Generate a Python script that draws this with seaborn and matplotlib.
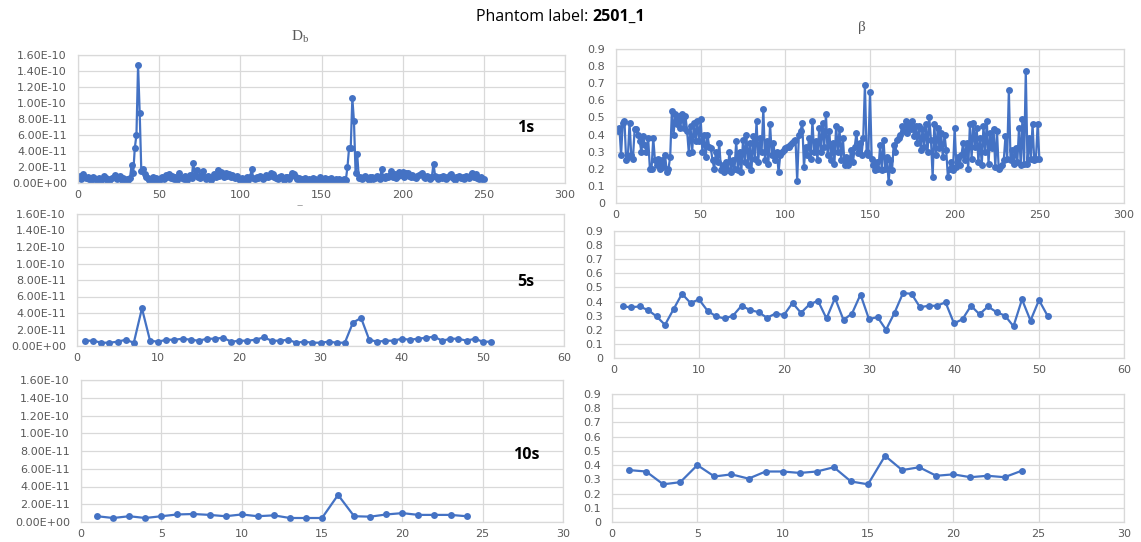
import numpy as np
import pandas as pd
import seaborn as sns
import matplotlib
matplotlib.use("Agg")
import matplotlib.pyplot as plt
from matplotlib.ticker import FuncFormatter

# ---- data -------------------------------------------------------------
# D_b values are stored in units of 1e-11
db_1s_e11 = [
    0.9, 0.5, 1.1, 0.7, 0.6, 0.8, 0.5, 0.4, 0.7, 0.6,
    0.5, 0.3, 0.6, 0.4, 0.5, 0.9, 0.6, 0.4, 0.3, 0.5,
    0.6, 0.8, 1.0, 0.5, 0.7, 0.9, 0.4, 0.6, 0.3, 0.5,
    0.4, 0.6, 2.2, 1.2, 4.4, 6.0, 14.7, 8.8, 1.5, 1.8,
    1.1, 0.8, 0.6, 0.4, 0.5, 0.7, 0.4, 0.6, 0.5, 0.3,
    0.6, 0.8, 0.5, 1.0, 0.7, 1.1, 0.6, 0.9, 0.5, 0.7,
    0.4, 1.2, 0.8, 0.6, 0.5, 0.9, 0.4, 0.7, 1.0, 0.6,
    2.5, 1.0, 1.6, 0.8, 0.6, 1.0, 1.5, 0.7, 0.5, 0.9,
    0.6, 0.4, 0.8, 1.1, 0.7, 1.6, 0.9, 1.4, 1.2, 0.8,
    1.3, 0.9, 1.1, 0.7, 1.0, 0.8, 0.6, 0.9, 0.5, 0.4,
    0.6, 0.3, 0.5, 0.7, 0.4, 0.8, 1.7, 0.6, 0.5, 0.8,
    0.6, 0.9, 0.7, 0.5, 0.8, 1.0, 0.7, 0.9, 1.2, 1.1,
    0.8, 0.6, 0.5, 0.7, 0.9, 0.6, 0.4, 0.8, 0.7, 0.5,
    0.9, 1.3, 1.1, 0.7, 0.5, 0.6, 0.4, 0.5, 0.3, 0.6,
    0.4, 0.5, 0.3, 0.4, 0.6, 0.5, 0.3, 0.4, 0.7, 0.5,
    0.4, 0.6, 0.3, 0.5, 0.4, 0.6, 0.3, 0.4, 0.5, 0.3,
    0.5, 0.4, 0.3, 0.5, 0.4, 2.0, 4.4, 4.4, 10.6, 7.7,
    1.2, 3.6, 0.6, 0.8, 0.5, 0.7, 0.9, 0.6, 0.4, 0.7,
    0.8, 0.5, 0.6, 0.9, 0.7, 0.5, 1.7, 0.8, 0.6, 0.9,
    0.7, 1.0, 1.5, 0.8, 1.1, 0.6, 0.9, 1.4, 1.0, 1.4,
    0.8, 1.2, 1.3, 0.9, 0.7, 1.0, 0.8, 0.6, 0.9, 1.0,
    1.1, 1.2, 0.8, 0.6, 0.9, 0.7, 0.5, 0.8, 2.4, 0.9,
    0.7, 0.5, 0.8, 0.6, 0.9, 0.7, 0.5, 0.8, 1.0, 1.1,
    0.6, 0.4, 0.8, 0.7, 0.9, 0.6, 0.8, 0.5, 0.9, 0.7,
    0.6, 1.0, 1.2, 0.8, 1.1, 0.6, 0.5, 0.7, 0.5, 0.5,
]

beta_1s = [
    0.42, 0.44, 0.28, 0.47, 0.48, 0.25, 0.27, 0.47, 0.28, 0.26,
    0.43, 0.43, 0.40, 0.36, 0.30, 0.39, 0.34, 0.30, 0.38, 0.20,
    0.20, 0.38, 0.25, 0.22, 0.26, 0.20, 0.25, 0.21, 0.28, 0.18,
    0.20, 0.27, 0.54, 0.40, 0.52, 0.46, 0.51, 0.44, 0.52, 0.44,
    0.51, 0.42, 0.29, 0.45, 0.30, 0.47, 0.36, 0.48, 0.36, 0.49,
    0.30, 0.40, 0.27, 0.40, 0.33, 0.32, 0.25, 0.20, 0.30, 0.24,
    0.35, 0.19, 0.22, 0.18, 0.24, 0.19, 0.30, 0.18, 0.25, 0.20,
    0.36, 0.19, 0.30, 0.18, 0.37, 0.24, 0.40, 0.22, 0.35, 0.19,
    0.39, 0.26, 0.48, 0.24, 0.38, 0.30, 0.55, 0.25, 0.36, 0.23,
    0.46, 0.28, 0.35, 0.25, 0.30, 0.18, 0.28, 0.30, 0.31, 0.32,
    0.33, 0.33, 0.34, 0.35, 0.36, 0.37, 0.13, 0.40, 0.42, 0.47,
    0.21, 0.33, 0.28, 0.38, 0.26, 0.48, 0.30, 0.36, 0.25, 0.44,
    0.30, 0.47, 0.33, 0.52, 0.28, 0.42, 0.25, 0.35, 0.23, 0.45,
    0.30, 0.43, 0.25, 0.38, 0.22, 0.27, 0.22, 0.26, 0.31, 0.24,
    0.33, 0.41, 0.29, 0.35, 0.28, 0.38, 0.69, 0.30, 0.28, 0.65,
    0.26, 0.22, 0.19, 0.24, 0.20, 0.34, 0.19, 0.37, 0.20, 0.27,
    0.12, 0.25, 0.19, 0.34, 0.30, 0.37, 0.38, 0.40, 0.45, 0.42,
    0.48, 0.41, 0.47, 0.43, 0.48, 0.39, 0.45, 0.35, 0.45, 0.31,
    0.43, 0.33, 0.46, 0.30, 0.50, 0.37, 0.15, 0.46, 0.28, 0.44,
    0.32, 0.41, 0.27, 0.40, 0.31, 0.15, 0.20, 0.24, 0.19, 0.44,
    0.21, 0.27, 0.22, 0.28, 0.35, 0.25, 0.35, 0.20, 0.46, 0.26,
    0.47, 0.33, 0.44, 0.24, 0.38, 0.22, 0.45, 0.30, 0.48, 0.23,
    0.41, 0.32, 0.43, 0.21, 0.42, 0.20, 0.21, 0.22, 0.25, 0.39,
    0.26, 0.66, 0.25, 0.31, 0.23, 0.32, 0.24, 0.44, 0.22, 0.49,
    0.23, 0.77, 0.23, 0.38, 0.26, 0.46, 0.25, 0.26, 0.46, 0.26,
]

db_5s_e11 = [
    0.64, 0.64, 0.40, 0.40, 0.52, 0.76, 0.40, 4.56, 0.64, 0.52,
    0.76, 0.76, 0.88, 0.76, 0.64, 0.88, 0.88, 1.00, 0.52, 0.64,
    0.64, 0.76, 1.04, 0.64, 0.64, 0.76, 0.40, 0.52, 0.40, 0.40,
    0.52, 0.40, 0.40, 2.84, 3.40, 0.76, 0.52, 0.64, 0.64, 0.88,
    0.76, 0.88, 1.00, 1.12, 0.64, 0.88, 0.88, 0.64, 0.88, 0.52,
    0.52,
]

beta_5s = [
    0.365, 0.36, 0.365, 0.34, 0.295, 0.235, 0.345, 0.455, 0.39, 0.415,
    0.335, 0.295, 0.28, 0.30, 0.37, 0.34, 0.325, 0.285, 0.315, 0.305,
    0.39, 0.32, 0.38, 0.405, 0.28, 0.425, 0.27, 0.315, 0.45, 0.275,
    0.29, 0.20, 0.32, 0.46, 0.455, 0.36, 0.37, 0.37, 0.395, 0.245,
    0.275, 0.37, 0.31, 0.365, 0.325, 0.30, 0.225, 0.415, 0.265, 0.41,
    0.30,
]

db_10s_e11 = [
    0.65, 0.45, 0.65, 0.45, 0.65, 0.85, 0.9, 0.8, 0.65, 0.85,
    0.65, 0.75, 0.45, 0.45, 0.45, 3.05, 0.65, 0.6, 0.85, 1.0,
    0.8, 0.8, 0.8, 0.65,
]

beta_10s = [
    0.365, 0.355, 0.265, 0.28, 0.40, 0.32, 0.335, 0.305, 0.355, 0.355,
    0.345, 0.355, 0.385, 0.285, 0.265, 0.465, 0.365, 0.385, 0.325, 0.335,
    0.315, 0.325, 0.315, 0.36,
]

x_limits = {"1s": 300, "5s": 60, "10s": 30}
x_steps = {"1s": 50, "5s": 10, "10s": 5}
db_series = {"1s": db_1s_e11, "5s": db_5s_e11, "10s": db_10s_e11}
beta_series = {"1s": beta_1s, "5s": beta_5s, "10s": beta_10s}

# ---- style ------------------------------------------------------------
sns.set_style("white")
plt.rcParams["font.family"] = ["DejaVu Sans"]

LINE = "#4472C4"
GRID = "#d9d9d9"
TICK = "#595959"

W, H = 1141, 542
fig = plt.figure(figsize=(W / 100, H / 100), dpi=100)


def box(left, top, right, bottom):
    return [left / W, 1 - bottom / H, (right - left) / W, (bottom - top) / H]


layout = {
    ("db", "1s"): box(78, 55, 565, 183),
    ("db", "5s"): box(77, 214, 564, 346),
    ("db", "10s"): box(81, 380, 563, 522),
    ("beta", "1s"): box(616, 49, 1124, 203),
    ("beta", "5s"): box(614, 231, 1124, 358),
    ("beta", "10s"): box(612, 394, 1124, 522),
}


def style_axes(ax, xmax, xstep, ymax, ystep, yfmt):
    ax.set_xlim(0, xmax)
    ax.set_ylim(0, ymax)
    ax.set_xticks(np.arange(0, xmax + xstep / 2, xstep))
    n = int(round(ymax / ystep))
    ax.set_yticks([i * ystep for i in range(n + 1)])
    ax.yaxis.set_major_formatter(FuncFormatter(yfmt))
    ax.grid(True, color=GRID, linewidth=0.9)
    ax.set_axisbelow(True)
    for s in ax.spines.values():
        s.set_color(GRID)
        s.set_linewidth(0.9)
    ax.tick_params(axis="both", length=0, labelsize=8, labelcolor=TICK)
    ax.tick_params(axis="y", pad=8)
    ax.tick_params(axis="x", pad=5)
    ax.set_xlabel("")
    ax.set_ylabel("")


def draw(ax, values, scale=1.0):
    df = pd.DataFrame({"x": np.arange(1, len(values) + 1),
                       "y": np.asarray(values, dtype=float) * scale})
    sns.lineplot(data=df, x="x", y="y", ax=ax, color=LINE, linewidth=1.6,
                 marker="o", markersize=5, markeredgewidth=0, legend=False)


for key in ["1s", "5s", "10s"]:
    ax = fig.add_axes(layout[("db", key)])
    draw(ax, db_series[key], 1e-11)
    style_axes(ax, x_limits[key], x_steps[key], 1.6e-10, 2e-11,
               lambda v, _: f"{v:.2E}")

    ax = fig.add_axes(layout[("beta", key)])
    draw(ax, beta_series[key])
    style_axes(ax, x_limits[key], x_steps[key], 0.9, 0.1,
               lambda v, _: f"{round(v, 1):g}")

# ---- annotations ------------------------------------------------------
fig.text(592 / W, 1 - 17 / H, "Phantom label: ", ha="right", va="center",
         fontsize=11.5, family="Open Sans", color="black")
fig.text(592 / W, 1 - 17 / H, "2501_1", ha="left", va="center",
         fontsize=11.5, family="Open Sans", fontweight="bold", color="black")

fig.text(300 / W, 1 - 37 / H, r"$\mathregular{D_b}$", ha="center", va="center",
         fontsize=11, color=TICK, family="Liberation Serif")
fig.text(862 / W, 1 - 28 / H, "β", ha="center", va="center",
         fontsize=11, color=TICK, family="Liberation Serif")
fig.text(300 / W, 1 - 205 / H, "‒", ha="center", va="center",
         fontsize=7, color="#9a9a9a")

for label, y in [("1s", 128), ("5s", 282), ("10s", 455)]:
    fig.text(526 / W, 1 - y / H, label, ha="center", va="center",
             fontsize=11.5, family="Open Sans", fontweight="bold", color="black")

fig.savefig("out.png", dpi=100, facecolor="white")
